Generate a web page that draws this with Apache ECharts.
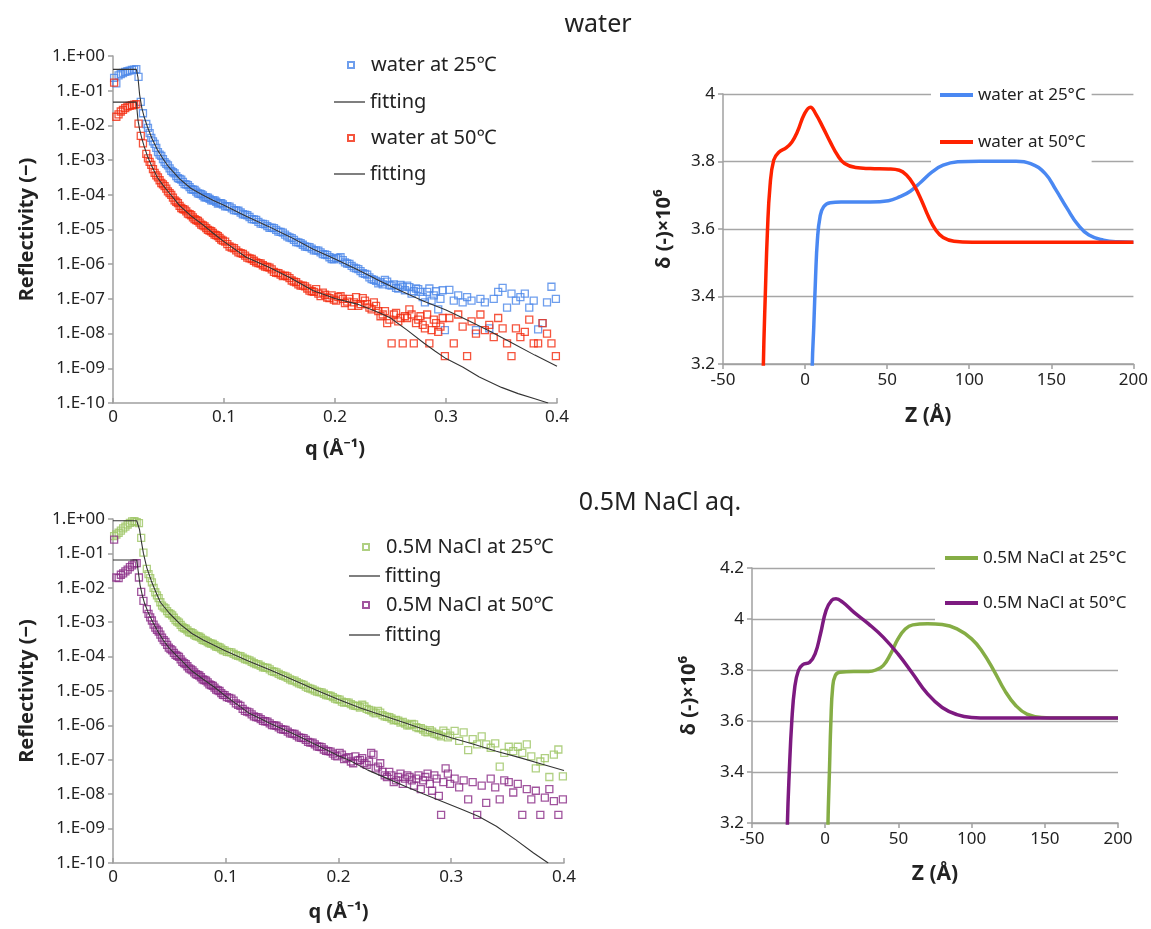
<!DOCTYPE html>
<html>
<head>
<meta charset="utf-8">
<script src="https://cdn.jsdelivr.net/npm/echarts@6/dist/echarts.min.js"></script>
<style>html,body{margin:0;padding:0;background:#fff}#c{width:1151px;height:929px}</style>
</head>
<body>
<div id="c"></div>
<script>
// ---------- reflectivity data (q in 1/Angstrom, values stored as log10 R) ----------
const qPoints = [
  0.001,0.003,0.005,0.007,0.009,0.011,0.013,0.015,0.017,0.019,0.021,0.023,0.025,0.027,
  0.030,0.033,0.036,0.039,0.042,0.045,0.048,0.051,0.054,0.057,0.060,0.063,0.066,0.069,0.072,0.075,0.078,0.081,0.084,0.087,0.090,0.093,0.096,0.099,
  0.103,0.107,0.111,0.115,0.119,0.123,0.127,0.131,0.135,0.139,0.143,0.147,0.151,0.155,0.159,0.163,0.167,0.171,0.175,0.179,0.183,0.187,0.191,0.195,0.199,
  0.203,0.207,0.211,0.215,0.219,0.223,0.227,0.231,0.235,0.239,0.243,0.247,0.251,0.255,0.259,0.263,0.267,0.271,0.275,0.279,0.283,0.287,0.291,0.295,0.299,
  0.303,0.307,0.311,0.315,0.319,0.323,0.327,0.331,0.335,0.339,0.343,0.347,0.351,0.355,0.359,0.363,0.367,0.371,0.375,0.379,0.383,0.387,0.391,0.395,0.399
];
const water25Log = [
  -0.63,-0.79,-0.56,-0.52,-0.49,-0.46,-0.44,-0.42,-0.40,-0.39,-0.38,-0.60,-1.32,-1.65,
  -1.96,-2.22,-2.46,-2.65,-2.84,-2.97,-3.11,-3.24,-3.35,-3.46,-3.54,-3.63,-3.70,-3.78,-3.85,-3.91,-3.97,-4.02,-4.07,-4.12,-4.16,-4.20,-4.24,-4.28,
  -4.33,-4.39,-4.45,-4.51,-4.57,-4.64,-4.71,-4.78,-4.84,-4.90,-4.95,-5.01,-5.07,-5.15,-5.23,-5.30,-5.37,-5.44,-5.50,-5.55,-5.60,-5.66,-5.72,-5.80,-5.86,
  -5.83,-5.88,-5.98,-6.05,-6.12,-6.20,-6.28,-6.38,-6.45,-6.55,-6.58,-6.50,-6.62,-6.68,-6.60,-6.75,-6.66,-6.78,-6.72,-6.95,-6.80,-7.05,-6.78,-7.00,-7.90,
  -6.74,-7.05,-6.90,-7.10,-6.95,-7.05,-7.90,-7.00,-7.10,-7.85,-7.00,-6.80,-6.68,-7.25,-6.85,-7.05,-6.95,-6.85,-7.25,-7.05,-7.88,-7.70,-7.10,-6.65,-7.00
];
const water50Log = [
  -0.77,-1.75,-1.68,-1.60,-1.55,-1.50,-1.46,-1.44,-1.42,-1.40,-1.39,-1.95,-2.30,-2.52,
  -2.82,-3.05,-3.26,-3.44,-3.58,-3.70,-3.82,-3.95,-4.08,-4.20,-4.32,-4.41,-4.48,-4.56,-4.65,-4.73,-4.80,-4.88,-4.96,-5.03,-5.10,-5.16,-5.24,-5.32,
  -5.42,-5.52,-5.60,-5.68,-5.75,-5.83,-5.90,-5.97,-6.03,-6.08,-6.15,-6.25,-6.30,-6.33,-6.40,-6.50,-6.58,-6.62,-6.70,-6.78,-6.72,-6.92,-6.88,-6.98,-7.02,
  -6.95,-7.00,-7.08,-7.20,-6.95,-7.15,-7.05,-7.25,-7.10,-7.35,-7.45,-7.70,-8.28,-7.40,-7.55,-7.50,-7.30,-8.28,-7.60,-7.75,-7.45,-7.90,-7.70,-7.80,-8.65,
  -7.55,-8.28,-7.45,-7.80,-8.65,-7.65,-8.00,-7.45,-7.90,-7.75,-8.10,-7.55,-7.85,-8.28,-8.65,-7.85,-8.10,-7.95,-7.60,-8.28,-8.28,-7.70,-8.00,-8.28,-8.65
];
const nacl25Log = [
  -0.50,-0.45,-0.40,-0.34,-0.27,-0.22,-0.16,-0.11,-0.07,-0.06,-0.09,-0.12,-0.55,-0.98,
  -1.45,-1.72,-2.00,-2.22,-2.42,-2.57,-2.68,-2.76,-2.87,-2.98,-3.08,-3.17,-3.24,-3.30,-3.36,-3.41,-3.46,-3.53,-3.58,-3.62,-3.67,-3.72,-3.77,-3.82,
  -3.87,-3.92,-3.98,-4.03,-4.09,-4.15,-4.22,-4.27,-4.32,-4.37,-4.44,-4.50,-4.56,-4.62,-4.69,-4.74,-4.80,-4.87,-4.93,-4.99,-5.03,-5.08,-5.13,-5.18,-5.24,
  -5.31,-5.33,-5.38,-5.43,-5.48,-5.45,-5.55,-5.62,-5.58,-5.70,-5.75,-5.80,-5.84,-5.92,-5.95,-6.00,-5.97,-6.08,-6.12,-6.20,-6.18,-6.25,-6.32,-6.22,-6.30,
  -6.16,-6.45,-6.20,-6.72,-6.40,-6.55,-6.32,-6.55,-6.65,-6.52,-7.20,-6.80,-6.62,-6.75,-6.62,-6.80,-6.55,-6.90,-7.25,-7.05,-6.95,-7.50,-6.85,-6.70,-7.48
];
const nacl50Log = [
  -0.60,-1.70,-1.72,-1.62,-1.58,-1.52,-1.47,-1.40,-1.35,-1.30,-1.28,-1.70,-2.12,-2.38,
  -2.62,-2.86,-3.07,-3.22,-3.36,-3.52,-3.66,-3.78,-3.89,-3.98,-4.08,-4.19,-4.28,-4.37,-4.46,-4.53,-4.60,-4.68,-4.75,-4.83,-4.90,-4.98,-5.06,-5.12,
  -5.20,-5.28,-5.40,-5.52,-5.60,-5.68,-5.76,-5.82,-5.88,-5.94,-6.00,-6.06,-6.12,-6.18,-6.24,-6.30,-6.36,-6.42,-6.50,-6.55,-6.62,-6.70,-6.75,-6.82,-6.90,
  -6.85,-6.95,-7.05,-6.90,-7.00,-7.10,-7.05,-6.85,-7.20,-7.35,-7.50,-7.45,-7.60,-7.40,-7.55,-7.50,-7.75,-7.45,-7.60,-7.40,-7.90,-7.55,-8.60,-7.25,-7.70,
  -7.55,-7.80,-7.60,-8.15,-7.65,-8.60,-7.75,-8.25,-7.55,-7.80,-8.15,-7.60,-7.65,-7.95,-7.70,-8.60,-7.85,-8.15,-7.90,-8.60,-8.10,-7.85,-8.20,-8.60,-8.15
];

// second, interleaved set of measured points (dense middle part of each curve)
const qPointsB = [
  0.0315,0.0345,0.0375,0.0405,0.0435,0.0465,0.0495,0.0525,0.0555,0.0585,0.0615,0.0645,0.0675,0.0705,0.0735,0.0765,0.0795,0.0825,0.0855,0.0885,0.0915,0.0945,0.0975,
  0.101,0.105,0.109,0.113,0.117,0.121,0.125,0.129,0.133,0.137,0.141,0.145,0.149,0.153,0.157,0.161,0.165,0.169,0.173,0.177,
  0.181,0.185,0.189,0.193,0.197,0.201,0.205,0.209,0.213,0.217,0.221,0.225,0.229,0.233,0.237,0.241,0.245,0.249,0.253,0.257,
  0.261,0.265,0.269,0.273,0.277,0.281,0.285,0.289,0.293,0.297
];
const water25LogB = [
  -2.07,-2.36,-2.53,-2.77,-2.88,-3.06,-3.15,-3.31,-3.38,-3.52,-3.56,-3.69,-3.72,-3.84,-3.86,-3.96,-3.98,-4.07,-4.08,-4.16,-4.16,-4.25,-4.24,
  -4.33,-4.34,-4.44,-4.46,-4.56,-4.59,-4.70,-4.72,-4.83,-4.85,-4.95,-4.96,-5.06,-5.09,-5.20,-5.25,-5.36,-5.39,-5.49,-5.51,
  -5.60,-5.61,-5.71,-5.74,-5.85,-5.82,-5.80,-5.95,-5.99,-6.10,-6.14,-6.26,-6.30,-6.43,-6.48,-6.52,-6.45,-6.60,-6.58,-6.70,
  -6.65,-6.62,-6.85,-6.70,-6.80,-7.10,-6.70,-6.90,-7.30,-6.75
];
const water50LogB = [
  -2.95,-3.14,-3.37,-3.50,-3.66,-3.75,-3.90,-4.00,-4.16,-4.24,-4.38,-4.43,-4.54,-4.59,-4.70,-4.75,-4.86,-4.91,-5.01,-5.05,-5.15,-5.19,-5.29,
  -5.35,-5.49,-5.54,-5.66,-5.70,-5.81,-5.85,-5.95,-5.98,-6.07,-6.10,-6.22,-6.26,-6.34,-6.35,-6.47,-6.52,-6.62,-6.64,-6.76,
  -6.80,-6.85,-6.82,-6.96,-6.90,-7.05,-6.92,-7.12,-7.00,-7.10,-7.20,-6.98,-7.15,-7.30,-7.20,-7.50,-7.35,-7.60,-7.45,-7.65,
  -8.28,-7.55,-7.45,-7.70,-7.50,-7.85,-8.28,-7.60,-7.95,-7.55
];
const nacl25LogB = [
  -1.60,-1.84,-2.13,-2.30,-2.52,-2.60,-2.74,-2.80,-2.94,-3.01,-3.14,-3.19,-3.29,-3.32,-3.40,-3.42,-3.51,-3.54,-3.61,-3.63,-3.71,-3.73,-3.81,
  -3.86,-3.88,-3.96,-3.99,-4.07,-4.11,-4.19,-4.23,-4.31,-4.33,-4.42,-4.46,-4.54,-4.58,-4.66,-4.70,-4.78,-4.82,-4.91,-4.95,
  -5.02,-5.04,-5.12,-5.14,-5.22,-5.25,-5.34,-5.34,-5.42,-5.44,-5.40,-5.52,-5.57,-5.65,-5.63,-5.74,-5.76,-5.85,-5.86,-5.90,
  -6.00,-5.96,-6.05,-6.08,-6.18,-6.14,-6.24,-6.28,-6.15,-6.35
];
const nacl50LogB = [
  -2.76,-2.95,-3.16,-3.27,-3.45,-3.57,-3.74,-3.82,-3.95,-4.01,-4.15,-4.22,-4.34,-4.40,-4.51,-4.55,-4.66,-4.70,-4.81,-4.85,-4.96,-5.00,-5.11,
  -5.18,-5.22,-5.36,-5.43,-5.58,-5.62,-5.74,-5.77,-5.87,-5.89,-5.99,-6.01,-6.11,-6.13,-6.23,-6.25,-6.35,-6.37,-6.48,-6.50,
  -6.61,-6.63,-6.74,-6.76,-6.88,-6.80,-6.98,-6.92,-7.10,-7.02,-6.95,-7.15,-6.80,-7.25,-7.10,-7.45,-7.35,-7.65,-7.50,-7.70,
  -7.45,-7.60,-7.55,-7.85,-7.50,-7.70,-7.45,-8.05,-7.65,-7.40
];

// fitting curves
const fitWater25Q   = [0,0.021,0.0225,0.024,0.026,0.028,0.031,0.035,0.04,0.045,0.05,0.06,0.07,0.08,0.09,0.1,0.12,0.14,0.16,0.18,0.2,0.22,0.24,0.26,0.28,0.3,0.32,0.34,0.36,0.38,0.4];
const fitWater25Log = [-0.385,-0.385,-0.62,-1.12,-1.50,-1.75,-2.04,-2.37,-2.70,-2.96,-3.19,-3.54,-3.81,-3.99,-4.16,-4.30,-4.62,-4.91,-5.22,-5.56,-5.85,-6.15,-6.48,-6.78,-7.07,-7.32,-7.62,-7.94,-8.28,-8.62,-8.94];
const fitWater50Q   = [0,0.021,0.0225,0.024,0.026,0.028,0.031,0.035,0.04,0.045,0.05,0.06,0.07,0.08,0.09,0.1,0.12,0.14,0.16,0.18,0.2,0.22,0.24,0.25,0.265,0.28,0.29,0.3,0.315,0.33,0.35,0.365,0.38,0.392];
const fitWater50Log = [-1.33,-1.33,-1.85,-2.12,-2.38,-2.60,-2.88,-3.18,-3.50,-3.72,-3.92,-4.31,-4.60,-4.84,-5.10,-5.35,-5.80,-6.08,-6.40,-6.76,-6.99,-7.15,-7.40,-7.55,-7.90,-8.27,-8.50,-8.72,-8.96,-9.25,-9.55,-9.73,-9.88,-10.0];
const fitNacl25Q    = [0,0.021,0.0235,0.025,0.027,0.03,0.034,0.038,0.042,0.05,0.06,0.07,0.08,0.1,0.12,0.14,0.16,0.18,0.2,0.22,0.24,0.26,0.28,0.3,0.32,0.34,0.36,0.38,0.4];
const fitNacl25Log  = [-0.05,-0.05,-0.30,-0.62,-1.00,-1.42,-1.80,-2.12,-2.42,-2.74,-3.07,-3.33,-3.52,-3.84,-4.13,-4.40,-4.68,-4.97,-5.25,-5.50,-5.72,-5.94,-6.16,-6.36,-6.55,-6.75,-6.93,-7.12,-7.31];
const fitNacl50Q    = [0,0.021,0.0225,0.024,0.026,0.028,0.031,0.035,0.04,0.045,0.05,0.06,0.07,0.08,0.09,0.1,0.12,0.14,0.16,0.18,0.2,0.21,0.226,0.243,0.259,0.275,0.292,0.308,0.324,0.34,0.357,0.373,0.386];
const fitNacl50Log  = [-1.19,-1.19,-1.55,-1.92,-2.22,-2.45,-2.70,-2.98,-3.28,-3.54,-3.76,-4.09,-4.42,-4.66,-4.89,-5.15,-5.63,-5.95,-6.24,-6.56,-6.88,-7.02,-7.30,-7.54,-7.77,-7.99,-8.21,-8.42,-8.64,-8.93,-9.32,-9.71,-10.0];

// ---------- density profiles (Z in Angstrom, delta x 1e6) ----------
const zWater25 = [4.0,4.4,5.3,6.4,7.5,9.1,11.3,15.3,21.9,39.7,50.8,57.4,64.1,70.8,77.4,84.1,93,106.3,128.5,137.4,146.3,152.9,159.6,166.3,172.9,181.8,190.7,200];
const dWater25 = [3.0,3.2,3.311,3.459,3.567,3.636,3.666,3.678,3.68,3.68,3.684,3.695,3.712,3.74,3.769,3.789,3.799,3.801,3.801,3.794,3.764,3.715,3.661,3.612,3.582,3.567,3.562,3.561];
const zWater50 = [-25.8,-25.4,-24.2,-22.9,-21.4,-19.1,-15.8,-11.4,-8,-4.7,-0.3,3.3,6.4,10.8,15.3,19.7,24.1,30.8,39.7,50.8,57.4,61.9,66.3,70.8,75.2,79.6,84.1,90.7,101.8,150,200];
const dWater50 = [3.0,3.2,3.41,3.597,3.725,3.804,3.828,3.841,3.858,3.888,3.942,3.961,3.942,3.902,3.858,3.819,3.794,3.782,3.779,3.778,3.774,3.759,3.73,3.686,3.636,3.597,3.575,3.564,3.561,3.561,3.561];
const zNacl25 = [1.5,1.9,2.9,3.9,5.1,6.9,9.9,19.5,29.6,34.6,39.6,44.7,49.7,54.7,59.8,69.9,79.9,90,100,107.6,115.2,122.7,130.3,137.8,147.9,160.5,200];
const dNacl25 = [3.0,3.2,3.404,3.601,3.732,3.778,3.791,3.794,3.794,3.8,3.817,3.863,3.922,3.961,3.977,3.981,3.978,3.961,3.922,3.87,3.798,3.719,3.66,3.627,3.614,3.612,3.612];
const zNacl50 = [-26.3,-25.8,-24.6,-22.8,-20.8,-18.3,-15.3,-10.7,-6.9,-3.2,0.6,4.4,7.4,11.9,19.5,29.6,39.6,49.7,59.8,69.9,79.9,90,100,112.7,150,200];
const dNacl50 = [3.0,3.2,3.391,3.601,3.732,3.798,3.821,3.83,3.863,3.942,4.034,4.073,4.079,4.066,4.027,3.981,3.929,3.863,3.785,3.706,3.653,3.625,3.614,3.612,3.612,3.612];

// ---------- helpers ----------
const FONT = "'Noto Sans', 'Noto Sans CJK JP', sans-serif";
const TXT = '#222';
const AXIS = '#a0a0a0';
const logPairs = (qs, logs) => qs.map((q, i) => [q, Math.pow(10, logs[i])]);
const pairs = (xs, ys) => xs.map((x, i) => [x, ys[i]]);
const sciLabel = v => { const e = Math.round(Math.log10(v)); return '1.E' + (e >= 0 ? '+' : '-') + String(Math.abs(e)).padStart(2, '0'); };

function reflX(grid, gap) {
  return { gridIndex: grid, type: 'value', min: 0, max: 0.4, interval: 0.1,
    name: 'q (Å⁻¹)', nameLocation: 'middle', nameGap: gap,
    nameTextStyle: { fontFamily: FONT, fontSize: 20, fontWeight: 'bold', color: TXT },
    axisLine: { show: true, onZero: false, lineStyle: { color: AXIS, width: 1.5 } },
    axisTick: { show: true, inside: true, length: 5, lineStyle: { color: AXIS, width: 1.5 } },
    axisLabel: { fontFamily: FONT, fontSize: 17, color: TXT, margin: 6 },
    splitLine: { show: false } };
}
function reflY(grid) {
  return { gridIndex: grid, type: 'log', logBase: 10, min: 1e-10, max: 1, interval: 1,
    name: 'Reflectivity (−)', nameLocation: 'middle', nameGap: 76,
    nameTextStyle: { fontFamily: FONT, fontSize: 20, fontWeight: 'bold', color: TXT },
    axisLine: { show: true, onZero: false, lineStyle: { color: AXIS, width: 1.5 } },
    axisTick: { show: true, length: 5, lineStyle: { color: AXIS, width: 1.5 } },
    axisLabel: { fontFamily: FONT, fontSize: 17, color: TXT, margin: 8, formatter: sciLabel },
    splitLine: { show: false } };
}
function profX(grid, gap) {
  return { gridIndex: grid, type: 'value', min: -50, max: 200, interval: 50,
    name: 'Z (Å)', nameLocation: 'middle', nameGap: gap,
    nameTextStyle: { fontFamily: FONT, fontSize: 21, fontWeight: 'bold', color: TXT },
    axisLine: { show: true, onZero: false, lineStyle: { color: AXIS, width: 1.5 } },
    axisTick: { show: true, length: 5, lineStyle: { color: AXIS, width: 1.5 } },
    axisLabel: { fontFamily: FONT, fontSize: 17, color: TXT, margin: 8 },
    splitLine: { show: false } };
}
function profY(grid, max, gap) {
  return { gridIndex: grid, type: 'value', min: 3.2, max: max, interval: 0.2,
    name: 'δ (-)×10⁶', nameLocation: 'middle', nameGap: gap,
    nameTextStyle: { fontFamily: FONT, fontSize: 20, fontWeight: 'bold', color: TXT },
    axisLine: { show: true, onZero: false, lineStyle: { color: AXIS, width: 1.5 } },
    axisTick: { show: true, length: 5, lineStyle: { color: AXIS, width: 1.5 } },
    axisLabel: { fontFamily: FONT, fontSize: 17, color: TXT, margin: 8 },
    splitLine: { show: true, lineStyle: { color: '#a6a6a6', width: 1.4 } } };
}
function scatter(name, xi, yi, data, color) {
  return { name, type: 'scatter', xAxisIndex: xi, yAxisIndex: yi, data, symbol: 'rect', symbolSize: 7,
    itemStyle: { color: 'rgba(255,255,255,0)', borderColor: color, borderWidth: 1.3 }, z: 2 };
}
function fitLine(name, xi, yi, data) {
  return { name, type: 'line', xAxisIndex: xi, yAxisIndex: yi, data, symbol: 'none', showSymbol: false,
    lineStyle: { color: '#333', width: 1.1 }, itemStyle: { color: '#555' }, z: 3 };
}
function profLine(name, xi, yi, data, color) {
  return { name, type: 'line', xAxisIndex: xi, yAxisIndex: yi, data, symbol: 'none', showSymbol: false,
    smooth: 0.45, clip: true,
    lineStyle: { color, width: 3.5 }, itemStyle: { color }, z: 2 };
}
function legendItem(name, left, cy, isLine) {
  return { data: [{ name, icon: 'rect' }], orient: 'vertical', left, top: cy - 11, padding: 0, selectedMode: false,
    itemWidth: isLine ? 31 : 6, itemHeight: isLine ? 1.5 : 6,
    formatter: n => n.indexOf('fit') === 0 ? 'fitting' : n,
    textStyle: { fontFamily: FONT, fontSize: 20, color: TXT, lineHeight: 22, padding: isLine ? 0 : [0, 0, 0, 12] } };
}

const option = {
  backgroundColor: '#fff',
  animation: false,
  graphic: [
    { type: 'text', x: 598, y: 25, style: { text: 'water', fontFamily: FONT, fontSize: 25, fill: TXT, align: 'center', verticalAlign: 'middle' } },
    { type: 'text', x: 660, y: 503, style: { text: '0.5M NaCl aq.', fontFamily: FONT, fontSize: 25, fill: TXT, align: 'center', verticalAlign: 'middle' } }
  ],
  grid: [
    { left: 113, top: 56, width: 444, height: 347 },
    { left: 723, top: 94, width: 412, height: 270 },
    { left: 113, top: 519, width: 451, height: 344 },
    { left: 752, top: 568, width: 366, height: 255 }
  ],
  xAxis: [ reflX(0, 36), profX(1, 42), reflX(2, 39), profX(3, 41) ],
  yAxis: [ reflY(0), profY(1, 4, 49), reflY(2), profY(3, 4.2, 53) ],
  legend: [
    legendItem('water at 25℃', 347, 65, false),
    legendItem('fitW25', 334, 102, true),
    legendItem('water at 50℃', 347, 138, false),
    legendItem('fitW50', 334, 174, true),
    legendItem('0.5M NaCl at 25℃', 362, 547, false),
    legendItem('fitN25', 349, 576, true),
    legendItem('0.5M NaCl at 50℃', 362, 605, false),
    legendItem('fitN50', 349, 635, true),
    { data: [{ name: 'water at 25°C', icon: 'rect' }, { name: 'water at 50°C', icon: 'rect' }], orient: 'vertical', left: 931, top: 77, z: 1,
      padding: [8, 6, 16, 9], itemGap: 27, itemWidth: 33, itemHeight: 4, backgroundColor: '#fff', selectedMode: false,
      textStyle: { fontFamily: FONT, fontSize: 17, color: TXT, lineHeight: 20 } },
    { data: [{ name: '0.5M NaCl at 25°C', icon: 'rect' }, { name: '0.5M NaCl at 50°C', icon: 'rect' }], orient: 'vertical', left: 935, top: 540, z: 1,
      padding: [8, 6, 12, 10], itemGap: 25, itemWidth: 33, itemHeight: 4, backgroundColor: '#fff', selectedMode: false,
      textStyle: { fontFamily: FONT, fontSize: 17, color: TXT, lineHeight: 20 } }
  ],
  series: [
    scatter('water at 25℃', 0, 0, logPairs(qPoints, water25Log).concat(logPairs(qPointsB, water25LogB)), '#4a86e8'),
    scatter('water at 50℃', 0, 0, logPairs(qPoints, water50Log).concat(logPairs(qPointsB, water50LogB)), '#f2290c'),
    fitLine('fitW25', 0, 0, logPairs(fitWater25Q, fitWater25Log)),
    fitLine('fitW50', 0, 0, logPairs(fitWater50Q, fitWater50Log)),
    profLine('water at 25°C', 1, 1, pairs(zWater25, dWater25), '#4a88f2'),
    profLine('water at 50°C', 1, 1, pairs(zWater50, dWater50), '#ff2200'),
    scatter('0.5M NaCl at 25℃', 2, 2, logPairs(qPoints, nacl25Log).concat(logPairs(qPointsB, nacl25LogB)), '#9cc463'),
    scatter('0.5M NaCl at 50℃', 2, 2, logPairs(qPoints, nacl50Log).concat(logPairs(qPointsB, nacl50LogB)), '#8a2a86'),
    fitLine('fitN25', 2, 2, logPairs(fitNacl25Q, fitNacl25Log)),
    fitLine('fitN50', 2, 2, logPairs(fitNacl50Q, fitNacl50Log)),
    profLine('0.5M NaCl at 25°C', 3, 3, pairs(zNacl25, dNacl25), '#85ad45'),
    profLine('0.5M NaCl at 50°C', 3, 3, pairs(zNacl50, dNacl50), '#7d1a80')
  ]
};
const chart = echarts.init(document.getElementById('c'), null, { renderer: 'canvas' });
chart.setOption(option);
</script>
</body>
</html>
